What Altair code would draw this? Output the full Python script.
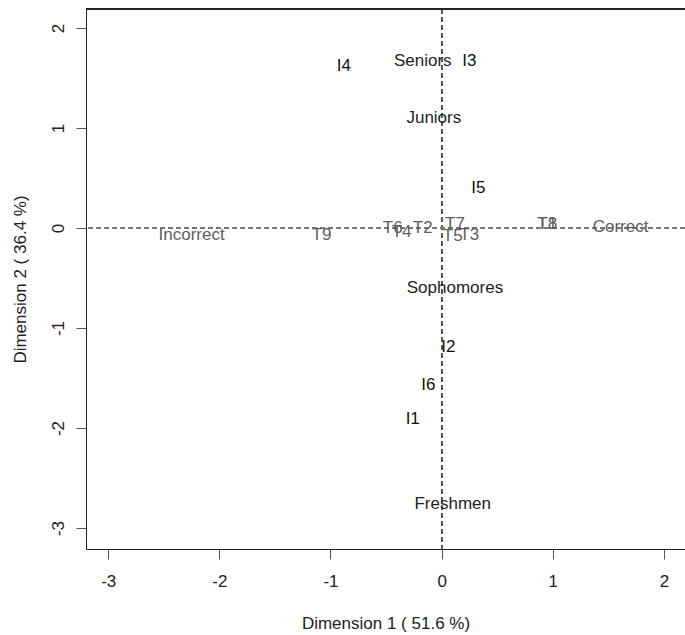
import altair as alt
import pandas as pd

labels = ["I1", "I2", "I3", "I4", "I5", "I6",
          "Freshmen", "Sophomores", "Juniors", "Seniors",
          "T1", "T2", "T3", "T4", "T5", "T6", "T7", "T8", "T9",
          "Incorrect", "Correct"]
dim1 = [-0.26, 0.06, 0.25, -0.88, 0.33, -0.12,
        0.10, 0.12, -0.07, -0.17,
        0.95, -0.17, 0.25, -0.36, 0.10, -0.44, 0.12, 0.95, -1.08,
        -2.25, 1.61]
dim2 = [-1.91, -1.19, 1.67, 1.62, 0.40, -1.57,
        -2.76, -0.60, 1.10, 1.67,
        0.04, 0.00, -0.07, -0.04, -0.08, 0.00, 0.04, 0.04, -0.07,
        -0.07, 0.01]
groups = ["item"] * 6 + ["year"] * 4 + ["task"] * 9 + ["answer"] * 2

x_ticks = [-3, -2, -1, 0, 1, 2]
y_ticks = [-3, -2, -1, 0, 1, 2]
x_title = "Dimension 1  ( 51.6 %)"
y_title = "Dimension 2  ( 36.4 %)"

df = pd.DataFrame({"label": labels, "d1": dim1, "d2": dim2, "group": groups})

W, H = 599, 540
FONT = "Liberation Sans"

xscale = alt.Scale(domain=[-3.2, 2.19], nice=False, zero=False)
yscale = alt.Scale(domain=[-3.21, 2.19], nice=False, zero=False)

xaxis = alt.Axis(values=x_ticks, labelExpr="datum.value + ''", grid=False,
                 title=x_title, titleFont=FONT, titleFontSize=17, titleFontWeight="normal",
                 titleColor="#222", titleX=W / 2, titleY=74, titleBaseline="middle",
                 titleAlign="center",
                 labelFont=FONT, labelFontSize=17, labelColor="#222", labelPadding=14,
                 tickSize=10, tickColor="#555", domainColor="#222", labelFlush=False)
yaxis = alt.Axis(values=y_ticks, labelExpr="datum.value + ''", grid=False,
                 title=y_title, titleFont=FONT, titleFontSize=17, titleFontWeight="normal",
                 titleColor="#222", titleAngle=270, titleX=-66, titleY=H / 2,
                 titleBaseline="middle", titleAlign="center",
                 labelFont=FONT, labelFontSize=17, labelColor="#222", labelAngle=270,
                 labelAlign="center", labelBaseline="bottom", labelPadding=9,
                 tickSize=10, tickColor="#555", domainColor="#222", labelFlush=False)

base = alt.Chart(df)

vline = base.mark_rule(color="#555", strokeDash=[5, 3], strokeWidth=1).encode(
    x=alt.datum(0, scale=xscale, axis=xaxis)
)
hline = base.mark_rule(color="#777", strokeDash=[5, 3], strokeWidth=1).encode(
    y=alt.datum(0, scale=yscale, axis=yaxis)
)

text = base.mark_text(font=FONT, fontSize=17, align="center", baseline="middle").encode(
    x=alt.X("d1:Q", scale=xscale, axis=xaxis),
    y=alt.Y("d2:Q", scale=yscale, axis=yaxis),
    text="label:N",
    color=alt.Color("group:N", legend=None,
                    scale=alt.Scale(domain=["item", "year", "task", "answer"],
                                    range=["#111111", "#1e1e1e", "#5e5e5e", "#5e5e5e"])),
)

top_border = alt.Chart(df).mark_rule(color="#222", strokeWidth=1).encode(
    x=alt.value(0), x2=alt.value(W), y=alt.value(0)
)

chart = alt.layer(vline, hline, text, top_border).properties(
    width=W, height=H,
    autosize=alt.AutoSizeParams(type="none"),
    padding={"left": 86, "top": 9, "right": 0, "bottom": 86},
).configure_view(stroke=None).configure(background="white")

chart.save("out.html", embed_options={"renderer": "svg", "actions": False})
